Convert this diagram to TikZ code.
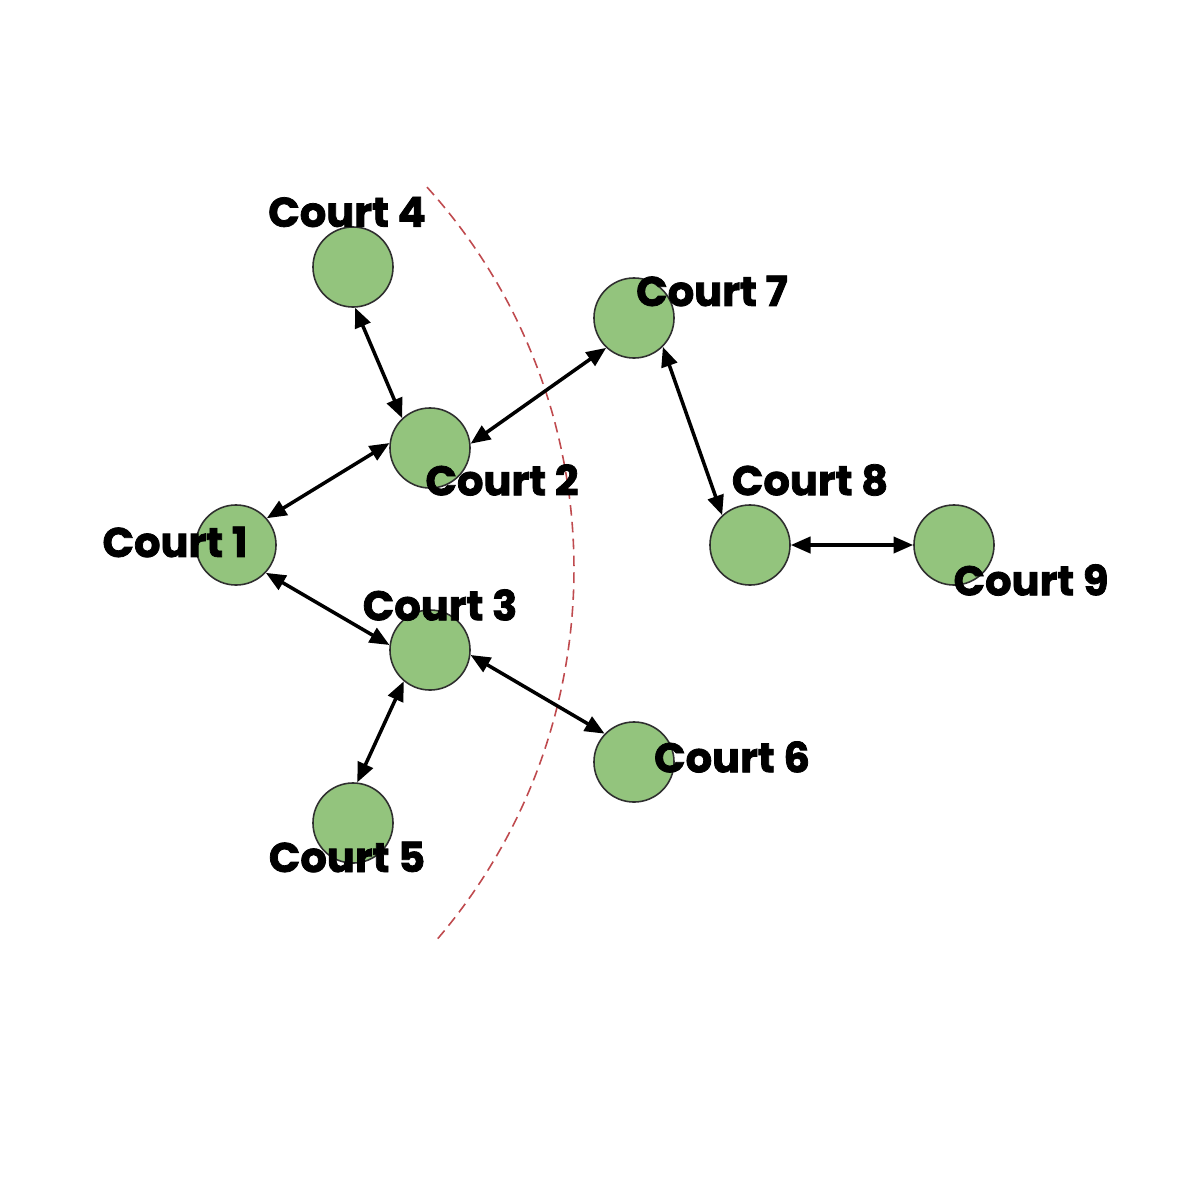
\documentclass[tikz,border=0pt]{standalone}
\usepackage{fontspec}
\setmainfont{Poppins}
\usetikzlibrary{arrows.meta}
\definecolor{courtfill}{HTML}{93C47D}
\definecolor{courtline}{HTML}{2F2F2F}
\definecolor{arcred}{HTML}{BF4A4E}
\newcommand{\heavytext}[1]{\special{pdf:literal direct 2 Tr 0.22 w}#1\special{pdf:literal direct 0 Tr}}
\begin{document}
\begin{tikzpicture}[x=0.01cm,y=-0.01cm,
  court/.style={circle,draw=courtline,line width=0.45pt,fill=courtfill,minimum size=0.8cm,inner sep=0pt},
  lbl/.style={font=\fontsize{11.8}{13}\selectfont\bfseries,text=black,inner sep=0pt},
  link/.style={line width=1pt,black,{Triangle[length=5.6pt,width=4.6pt]}-{Triangle[length=5.6pt,width=4.6pt]}}]
\useasboundingbox (0,0) rectangle (1200,1200);
\draw[arcred,line width=0.45pt,dash pattern=on 3pt off 1.8pt] (4.4,569) ++(-42.1:569.6) arc[start angle=-42.1,end angle=40.9,radius=569.6];
\node[court] (c1) at (236,545) {};
\node[court] (c2) at (430,448) {};
\node[court] (c3) at (430,650) {};
\node[court] (c4) at (353,267) {};
\node[court] (c5) at (353,823) {};
\node[court] (c6) at (634,762) {};
\node[court] (c7) at (634,318) {};
\node[court] (c8) at (750,545) {};
\node[court] (c9) at (954,545) {};
\draw[link] (c4.-87) -- (c2.133);
\draw[link] (c2.6) -- (c7.-133);
\draw[link] (c1.41) -- (c2.173);
\draw[link] (c1.-43) -- (c3.173);
\draw[link] (c3.-130) -- (c5.84);
\draw[link] (c3.-7) -- (c6.136);
\draw[link] (c7.-45) -- (c8.133);
\draw[link] (c8.0) -- (c9.180);
\node[lbl] (l4) at (347,212) {\heavytext{Court 4}};
\node[lbl] (l7) at (712,291) {\heavytext{Court 7}};
\node[lbl] (l2) at (502,480) {\heavytext{Court 2}};
\node[lbl] (l8) at (810,480) {\heavytext{Court 8}};
\node[lbl] (l1) at (175,542) {\heavytext{Court 1}};
\node[lbl] (l9) at (1031,580) {\heavytext{Court 9}};
\node[lbl] (l3) at (440,605) {\heavytext{Court 3}};
\node[lbl] (l6) at (732,757) {\heavytext{Court 6}};
\node[lbl] (l5) at (347,857) {\heavytext{Court 5}};
\end{tikzpicture}
\end{document}
